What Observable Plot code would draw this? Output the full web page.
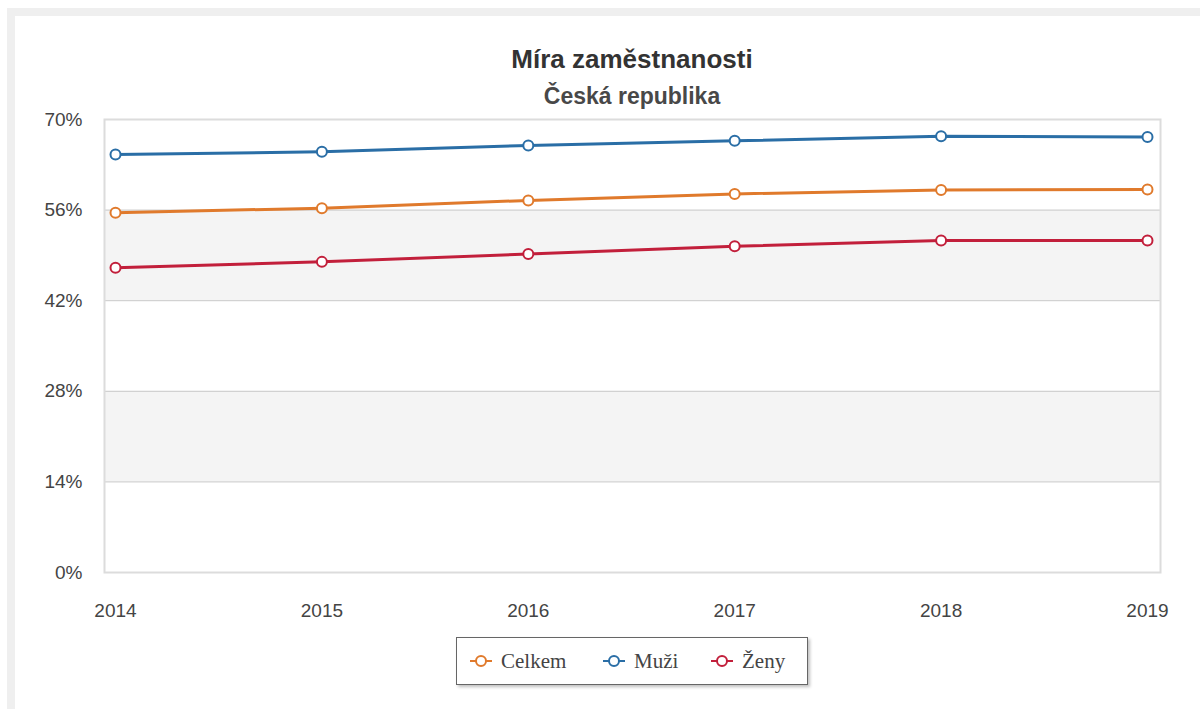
<!DOCTYPE html>
<html>
<head>
<meta charset="utf-8">
<script src="https://cdn.jsdelivr.net/npm/d3@7"></script>
<script src="https://cdn.jsdelivr.net/npm/@observablehq/plot@0.6"></script>
<style>
  html, body { margin: 0; padding: 0; background: #fff; }
  #page { position: relative; width: 1200px; height: 709px; overflow: hidden; font-family: "Liberation Sans", Arial, sans-serif; }
  .band-top { position: absolute; left: 7px; top: 8px; width: 1193px; height: 8px; background: #efefef; }
  .band-left { position: absolute; left: 7px; top: 8px; width: 8px; height: 701px; background: #efefef; }
  #title { position: absolute; left: 0; width: 1264px; top: 44px; text-align: center; font-size: 26px; font-weight: bold; color: #333; line-height: 30px; }
  #subtitle { position: absolute; left: 0; width: 1264px; top: 82px; text-align: center; font-size: 23px; font-weight: bold; color: #484848; line-height: 28px; }
  #chart { position: absolute; left: 0; top: 100px; }
  #legend { position: absolute; left: 456px; top: 637px; width: 350px; height: 46px; border: 1px solid #666; box-shadow: 2px 2px 3px rgba(0,0,0,0.25); background: #fff; font-family: "Liberation Serif", "Times New Roman", serif; font-size: 21px; color: #444; }
  .item { position: absolute; top: 0; height: 46px; display: flex; align-items: center; }
  .item svg { margin-right: 9px; }
</style>
</head>
<body>
<div id="page">
  <div class="band-top"></div>
  <div class="band-left"></div>
  <div id="title">Míra zaměstnanosti</div>
  <div id="subtitle">Česká republika</div>
  <div id="chart"></div>
  <div id="legend"></div>
</div>
<script>
const years = [2014, 2015, 2016, 2017, 2018, 2019];
const celkem = [55.6, 56.3, 57.5, 58.5, 59.1, 59.2];
const muzi = [64.6, 65.0, 66.0, 66.7, 67.4, 67.3];
const zeny = [47.1, 48.0, 49.2, 50.4, 51.3, 51.3];
const yTicks = [0, 14, 28, 42, 56, 70];
const seriesNames = ["Celkem", "Muži", "Ženy"];
const seriesColors = ["#e07a2c", "#2a6ea6", "#c21f3b"];
const bands = [[14, 28], [42, 56]];

const seriesValues = [celkem, muzi, zeny];
const data = [];
seriesNames.forEach((name, i) => {
  years.forEach((yr, j) => data.push({ series: name, year: yr, value: seriesValues[i][j] }));
});
const bandData = bands.map(([a, b]) => ({ y1: a, y2: b }));

const chart = Plot.plot({
  width: 1200,
  height: 520,
  marginLeft: 104,
  marginRight: 40,
  marginTop: 19,
  marginBottom: 48,
  style: { fontFamily: '"Liberation Sans", Arial, sans-serif', fontSize: "19px", color: "#444", background: "transparent" },
  x: { domain: [years[0], years[years.length - 1]], insetLeft: 11, insetRight: 13 },
  y: { domain: [0, 70] },
  color: { domain: seriesNames, range: seriesColors },
  marks: [
    Plot.rect(bandData, { y1: "y1", y2: "y2", fill: "#f4f4f4" }),
    Plot.ruleY(yTicks.filter(t => t > 0 && t < 70), { stroke: "#c8c8c8", strokeWidth: 1 }),
    Plot.frame({ stroke: "#dcdcdc", strokeWidth: 2 }),
    Plot.axisY({ ticks: yTicks, tickFormat: d => d + "%", tickSize: 0, tickPadding: 22, fontSize: 19, label: null }),
    Plot.axisX({ ticks: years, tickFormat: d => String(d), tickSize: 0, tickPadding: 31, fontSize: 19, label: null }),
    Plot.line(data, { x: "year", y: "value", z: "series", stroke: "series", strokeWidth: 3 }),
    Plot.dot(data, { x: "year", y: "value", stroke: "series", fill: "white", r: 5, strokeWidth: 2 })
  ]
});
document.getElementById("chart").appendChild(chart);

// Legend
const legend = document.getElementById("legend");
const lefts = [13, 146, 254];
seriesNames.forEach((name, i) => {
  const it = document.createElement("div");
  it.className = "item";
  it.style.left = lefts[i] + "px";
  const c = seriesColors[i];
  it.innerHTML = `<svg width="22" height="14"><line x1="0" y1="7" x2="22" y2="7" stroke="${c}" stroke-width="2"/><circle cx="11" cy="7" r="5" fill="white" stroke="${c}" stroke-width="2"/></svg><span>${name}</span>`;
  legend.appendChild(it);
});
</script>
</body>
</html>
